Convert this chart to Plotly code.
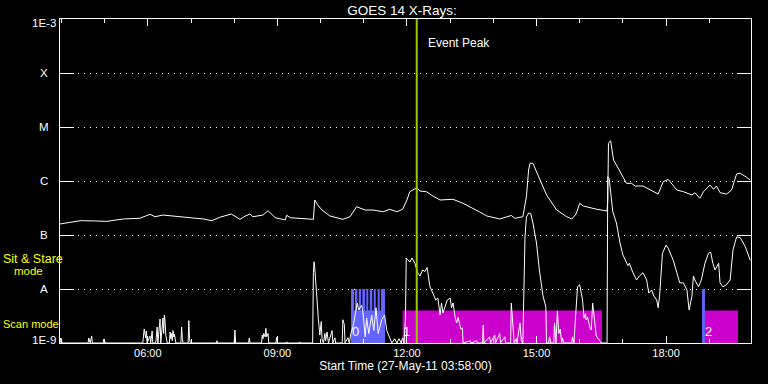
import math
import plotly.graph_objects as go

DAY = "2011-05-27"
X_START = "03:58"
X_END = "19:58"
TITLE = "GOES 14 X-Rays:"
X_TITLE = "Start Time (27-May-11 03:58:00)"

Y_TICK_VALS = [1e-9, 1e-8, 1e-7, 1e-6, 1e-5, 1e-4, 1e-3]
Y_TICK_TEXT = ["1E-9", "A", "B", "C", "M", "X", "1E-3"]

# GOES long channel (1-8 A)
long_time = [
    "03:58", "04:12", "04:26", "04:47", "05:03", "05:26", "05:49", "06:03", "06:10", "06:21",
    "06:49", "07:03", "07:17", "07:29", "07:40", "07:56", "08:08", "08:15", "08:22", "08:26",
    "08:40", "08:47", "08:57", "09:11", "09:13", "09:18", "09:41", "09:50", "09:52", "09:56",
    "10:02", "10:13", "10:31", "10:41", "10:50", "11:02", "11:13", "11:27", "11:36", "11:46",
    "11:54", "12:00", "12:04", "12:14", "12:18", "12:27", "12:36", "12:46", "13:04", "13:18",
    "13:41", "13:51", "14:09", "14:25", "14:30", "14:41", "14:46", "14:49", "14:51", "14:55",
    "15:02", "15:14", "15:28", "15:42", "15:49", "15:55", "16:00", "16:05", "16:24", "16:38",
    "16:39", "16:40", "16:43", "16:47", "16:51", "17:05", "17:12", "17:17", "17:28", "17:38",
    "17:49", "17:56", "18:03", "18:15", "18:24", "18:36", "18:40", "18:47", "18:52", "19:01",
    "19:06", "19:10", "19:15", "19:24", "19:31", "19:38", "19:43", "19:52", "19:57",
]
long_flux = [
    1.60e-7, 1.70e-7, 1.84e-7, 1.82e-7, 1.79e-7, 1.98e-7, 2.04e-7, 2.42e-7, 2.18e-7, 2.34e-7,
    2.18e-7, 2.09e-7, 1.98e-7, 1.84e-7, 2.13e-7, 2.45e-7, 1.95e-7, 2.23e-7, 2.45e-7, 2.18e-7,
    2.34e-7, 2.82e-7, 2.09e-7, 1.90e-7, 2.32e-7, 2.09e-7, 2.00e-7, 1.95e-7, 4.45e-7, 3.60e-7,
    2.90e-7, 2.25e-7, 1.95e-7, 2.18e-7, 3.34e-7, 2.90e-7, 2.90e-7, 2.70e-7, 2.99e-7, 2.70e-7,
    2.99e-7, 4.45e-7, 6.34e-7, 7.52e-7, 6.50e-7, 6.34e-7, 5.27e-7, 4.45e-7, 4.58e-7, 3.86e-7,
    2.67e-7, 2.25e-7, 1.98e-7, 2.30e-7, 2.04e-7, 2.18e-7, 5.12e-7, 1.60e-6, 2.13e-6, 2.13e-6,
    1.29e-6, 5.51e-7, 2.90e-7, 2.18e-7, 1.98e-7, 2.45e-7, 3.86e-7, 3.44e-7, 2.99e-7, 2.78e-7,
    4.45e-7, 4.99e-6, 5.57e-6, 2.45e-6, 1.98e-6, 9.06e-7, 9.06e-7, 8.07e-7, 8.07e-7, 6.81e-7,
    5.74e-7, 9.71e-7, 1.07e-6, 6.81e-7, 6.34e-7, 5.51e-7, 6.07e-7, 4.79e-7, 6.34e-7, 8.43e-7,
    7.02e-7, 8.07e-7, 6.07e-7, 5.74e-7, 6.81e-7, 1.35e-6, 1.39e-6, 1.17e-6, 1.04e-6,
]

# GOES short channel (0.5-4 A)
short_time = [
    "03:58", "03:59", "04:01", "04:37", "04:38", "04:40", "04:42", "04:43", "04:58", "04:59",
    "05:01", "05:53", "05:55", "05:56", "05:57", "05:58", "05:59", "06:03", "06:04", "06:06",
    "06:07", "06:11", "06:13", "06:14", "06:15", "06:17", "06:18", "06:20", "06:21", "06:22",
    "06:23", "06:24", "06:25", "06:27", "06:30", "06:31", "06:32", "06:33", "06:34", "06:35",
    "06:36", "06:37", "06:39", "06:46", "06:47", "06:48", "06:49", "06:56", "06:57", "06:58",
    "06:59", "07:35", "07:36", "07:37", "08:00", "08:01", "08:02", "08:20", "08:21", "08:22",
    "08:38", "08:39", "08:40", "08:41", "08:43", "08:44", "08:45", "08:47", "08:48", "08:58",
    "08:59", "09:00", "09:12", "09:13", "09:14", "09:30", "09:31", "09:32", "09:49", "09:50",
    "09:51", "09:52", "09:53", "09:54", "09:55", "09:56", "09:57", "09:58", "09:59", "10:01",
    "10:02", "10:04", "10:06", "10:07", "10:09", "10:11", "10:16", "10:17", "10:20", "10:21",
    "10:30", "10:31", "10:33", "10:34", "10:38", "10:40", "10:42", "10:45", "10:49", "10:51",
    "10:53", "10:57", "10:59", "11:02", "11:04", "11:07", "11:11", "11:14", "11:17", "11:20",
    "11:25", "11:29", "11:32", "11:36", "11:39", "11:43", "11:46", "11:49", "11:52", "11:54",
    "11:56", "11:58", "11:59", "12:01", "12:04", "12:07", "12:11", "12:15", "12:18", "12:22",
    "12:25", "12:28", "12:32", "12:36", "12:40", "12:43", "12:46", "12:48", "12:50", "12:56",
    "13:00", "13:02", "13:04", "13:07", "13:09", "13:11", "13:15", "13:17", "13:18", "13:28",
    "13:29", "13:37", "13:38", "13:45", "13:46", "13:47", "13:55", "13:56", "14:02", "14:03",
    "14:09", "14:10", "14:16", "14:17", "14:24", "14:25", "14:27", "14:29", "14:32", "14:33",
    "14:37", "14:39", "14:41", "14:42", "14:44", "14:46", "14:49", "14:52", "14:55", "15:00",
    "15:04", "15:09", "15:11", "15:13", "15:14", "15:17", "15:18", "15:20", "15:24", "15:25",
    "15:27", "15:29", "15:31", "15:33", "15:35", "15:36", "15:38", "15:49", "15:50", "15:52",
    "15:54", "15:57", "16:00", "16:02", "16:04", "16:06", "16:08", "16:09", "16:11", "16:14",
    "16:16", "16:18", "16:21", "16:23", "16:28", "16:30", "16:38", "16:39", "16:41", "16:44",
    "16:46", "16:51", "16:56", "17:00", "17:05", "17:07", "17:09", "17:14", "17:19", "17:23",
    "17:28", "17:33", "17:36", "17:40", "17:43", "17:47", "17:49", "17:51", "17:55", "18:00",
    "18:03", "18:10", "18:15", "18:19", "18:24", "18:29", "18:32", "18:36", "18:38", "18:40",
    "18:45", "18:49", "18:54", "18:59", "19:02", "19:05", "19:08", "19:13", "19:15", "19:19",
    "19:24", "19:29", "19:33", "19:38", "19:43", "19:50", "19:57",
]
short_flux = [
    1e-9, 1.24e-9, 1e-9, 1e-9, 1.24e-9, 1e-9, 1.35e-9, 1e-9, 1e-9, 1.19e-9,
    1e-9, 1e-9, 1.82e-9, 1.35e-9, 1.24e-9, 1.67e-9, 1e-9, 1.35e-9, 1e-9, 1.67e-9,
    1e-9, 1e-9, 1.98e-9, 1e-9, 1.3e-9, 2.78e-9, 1e-9, 2.2e-9, 2.9e-9, 1.5e-9,
    3.3e-9, 2.5e-9, 1.4e-9, 1e-9, 1e-9, 1.6e-9, 1.2e-9, 1.5e-9, 1.1e-9, 1.7e-9,
    1.3e-9, 1.45e-9, 1e-9, 1e-9, 1.98e-9, 1.2e-9, 1e-9, 1e-9, 2.6e-9, 1.2e-9,
    1e-9, 1e-9, 1.1e-9, 1e-9, 1e-9, 1.74e-9, 1e-9, 1e-9, 1.24e-9, 1e-9,
    1e-9, 1.4e-9, 1.2e-9, 1.5e-9, 1.3e-9, 1.87e-9, 1.3e-9, 1.5e-9, 1e-9, 1e-9,
    1.27e-9, 1e-9, 1e-9, 1.05e-9, 1e-9, 1e-9, 1.05e-9, 1e-9, 1e-9, 2.0e-8,
    3.2e-8, 2.4e-8, 1.47e-8, 8.4e-9, 5.0e-9, 3.6e-9, 2.7e-9, 2.0e-9, 1.4e-9, 2.5e-9,
    1.2e-9, 1e-9, 1.5e-9, 1.1e-9, 1.6e-9, 1e-9, 1.7e-9, 1e-9, 1.25e-9, 1e-9,
    1e-9, 2.7e-9, 2.2e-9, 1e-9, 1.25e-9, 1e-9, 1.5e-9, 2.0e-9, 4.1e-9, 5.5e-9,
    4.1e-9, 5.0e-9, 3.6e-9, 1.3e-9, 2.9e-9, 1.5e-9, 3.3e-9, 1.7e-9, 4.5e-9, 1.5e-9,
    2.7e-9, 3.3e-9, 1.7e-9, 1.24e-9, 1e-9, 1.2e-9, 1e-9, 1.2e-9, 1e-9, 1.25e-9,
    1e-9, 3.0e-9, 3.75e-8, 3.5e-8, 3.16e-8, 3.75e-8, 3.0e-8, 2.0e-8, 1.74e-8, 2.25e-8,
    2.1e-8, 2.5e-8, 1.1e-8, 8.4e-9, 6.25e-9, 6.8e-9, 3.3e-9, 5.5e-9, 3.6e-9, 6.25e-9,
    6.8e-9, 4.5e-9, 5.5e-9, 3.0e-9, 2.35e-9, 3.0e-9, 1.8e-9, 1.9e-9, 1e-9, 1.1e-9,
    1e-9, 1.1e-9, 1e-9, 1e-9, 2.15e-9, 1e-9, 1.3e-9, 1e-9, 1.4e-9, 1e-9,
    1.5e-9, 1e-9, 1.3e-9, 1e-9, 1e-9, 5.5e-9, 2.0e-9, 1e-9, 1.2e-9, 1e-9,
    2.35e-9, 1.1e-9, 1e-9, 6e-9, 9.2e-8, 2.15e-7, 2.55e-7, 2.5e-7, 1.67e-7, 7.1e-8,
    2.25e-8, 7.5e-9, 5.5e-9, 4.6e-9, 1e-9, 1e-9, 1.3e-9, 1e-9, 1e-9, 2.35e-9,
    1e-9, 3.9e-9, 1.5e-9, 1.8e-9, 1e-9, 1.24e-9, 1e-9, 1e-9, 1.3e-9, 1e-9,
    2.67e-9, 1.1e-8, 1.2e-8, 8e-9, 6.25e-9, 2.9e-9, 3.5e-9, 2.67e-9, 3.0e-9, 2.0e-9,
    1.74e-9, 5.5e-9, 2.0e-9, 1.35e-9, 1.1e-9, 1e-9, 1e-9, 1.2e-6, 1.1e-6, 5.1e-7,
    2.7e-7, 1.67e-7, 7.1e-8, 4.3e-8, 3.0e-8, 2.7e-8, 3.0e-8, 2.0e-8, 1.47e-8, 1.74e-8,
    2.0e-8, 1.47e-8, 8.4e-9, 9.6e-9, 7.4e-9, 6.25e-9, 4.5e-9, 7.4e-9, 4.6e-8, 6.5e-8,
    5.7e-8, 3.4e-8, 2.0e-8, 1.3e-8, 1.3e-8, 9.6e-9, 4.1e-9, 7.4e-9, 1.74e-8, 1.47e-8,
    1.1e-8, 1.47e-8, 3.0e-8, 4.6e-8, 4.8e-8, 3.0e-8, 2.25e-8, 3.0e-8, 1.3e-8, 1.1e-8,
    1.2e-8, 1.47e-8, 5.3e-8, 9.2e-8, 9.0e-8, 6.1e-8, 3.4e-8,
]

EVENT_PEAK_TIME = "12:13:36"

# Observing modes
sit_stare_start = ["10:42:20", "10:47:50", "10:53:00", "10:58:00", "11:03:30", "11:08:20",
                   "11:13:50", "11:19:20", "11:24:00", "18:50:00"]
sit_stare_end = ["10:46:30", "10:51:10", "10:56:10", "11:01:50", "11:06:20", "11:11:50",
                 "11:16:40", "11:22:10", "11:29:30", "18:54:00"]
sit_stare_level = 1e-8
sit_stare_block_start = ["10:42:20"]
sit_stare_block_end = ["11:29:30"]
scan_start = ["11:54:00", "18:54:00"]
scan_end = ["16:31:00", "19:40:00"]
mode_level = 4.0e-9
mode_numbers = ["0", "1", "2"]
mode_number_time = ["10:49:00", "11:59:30", "18:59:00"]
mode_number_level = 1.6e-9

BLUE = "#6464ff"
MAGENTA = "#cc00cc"
EVENT_COLOR = "#9acd00"
YELLOW = "#ffff00"
FONT = "Liberation Sans"


def ts(hm):
    return f"{DAY} {hm}"


FLOOR = Y_TICK_VALS[0]
CEIL = Y_TICK_VALS[-1]


def rects(starts, ends, top):
    xs, ys = [], []
    for s, e in zip(starts, ends):
        xs += [ts(s), ts(s), ts(e), ts(e), ts(s), None]
        ys += [FLOOR, top, top, FLOOR, FLOOR, None]
    return xs, ys


fig = go.Figure()

sx, sy = rects(scan_start, scan_end, mode_level)
fig.add_trace(go.Scatter(x=sx, y=sy, mode="lines", fill="toself", fillcolor=MAGENTA,
                         line=dict(width=0, color=MAGENTA), hoverinfo="skip"))
bx, by = rects(sit_stare_block_start, sit_stare_block_end, mode_level)
fig.add_trace(go.Scatter(x=bx, y=by, mode="lines", fill="toself", fillcolor=BLUE,
                         line=dict(width=0, color=BLUE), hoverinfo="skip"))
bx, by = rects(sit_stare_start, sit_stare_end, sit_stare_level)
fig.add_trace(go.Scatter(x=bx, y=by, mode="lines", fill="toself", fillcolor=BLUE,
                         line=dict(width=0, color=BLUE), hoverinfo="skip"))

fig.add_trace(go.Scatter(x=[ts(t) for t in short_time], y=short_flux, mode="lines",
                         line=dict(color="white", width=1), name="0.5-4 A"))
fig.add_trace(go.Scatter(x=[ts(t) for t in long_time], y=long_flux, mode="lines",
                         line=dict(color="white", width=1), name="1-8 A"))
fig.add_trace(go.Scatter(x=[ts(EVENT_PEAK_TIME)] * 2, y=[FLOOR, CEIL], mode="lines",
                         line=dict(color=EVENT_COLOR, width=2), name="Event Peak"))

annotations = []
label_font = dict(family=FONT, size=11.5, color="white")
for v, txt in zip(Y_TICK_VALS, Y_TICK_TEXT):
    yp = (math.log10(v) - math.log10(FLOOR)) / (math.log10(CEIL) - math.log10(FLOOR))
    if txt.startswith("1E"):
        annotations.append(dict(x=0, y=yp, xref="paper", yref="paper", text=txt,
                                showarrow=False, xanchor="right", yanchor="middle",
                                xshift=-2, yshift=(-4 if yp > 0.5 else 3), font=label_font))
    else:
        annotations.append(dict(x=0, y=yp, xref="paper", yref="paper", text=txt,
                                showarrow=False, xanchor="center", yanchor="middle",
                                xshift=-16, font=label_font))

for txt, px, py, fs in [("Sit & Stare", 1, 259, 12.5), ("mode", 12, 271, 11.5),
                        ("Scan mode", 1, 324, 11)]:
    annotations.append(dict(x=0, y=(343 - py) / 324, xref="paper", yref="paper", text=txt,
                            showarrow=False, xanchor="left", yanchor="middle",
                            xshift=px - 60, font=dict(family=FONT, size=fs, color=YELLOW)))

annotations.append(dict(x=ts(EVENT_PEAK_TIME), y=(343 - 43) / 324, xref="x", yref="paper",
                        text="Event Peak", showarrow=False, xanchor="left", yanchor="middle",
                        xshift=9, font=dict(family=FONT, size=12, color="white")))

for txt, t in zip(mode_numbers, mode_number_time):
    annotations.append(dict(x=ts(t), y=math.log10(mode_number_level), xref="x", yref="y",
                            text=txt, showarrow=False, xanchor="center", yanchor="middle",
                            font=dict(family=FONT, size=13, color="white")))

fig.update_layout(
    width=768, height=384,
    paper_bgcolor="black", plot_bgcolor="black",
    margin=dict(l=60, r=17, t=19, b=41, pad=0),
    showlegend=False,
    font=dict(family=FONT, size=11, color="white"),
    title=dict(text=TITLE, x=402 / 768, xref="container", xanchor="center",
               y=1 - 10 / 384, yref="container", yanchor="middle",
               font=dict(family=FONT, size=13.5, color="white")),
    xaxis=dict(
        type="date", range=[ts(X_START), ts(X_END)],
        tickformat="%H:%M", tick0=ts("00:00"), dtick=3 * 3600 * 1000,
        ticks="inside", ticklen=7, tickwidth=1, tickcolor="white",
        mirror="allticks", showline=True, linecolor="white", linewidth=1,
        showgrid=False, zeroline=False,
        minor=dict(tick0=ts("00:00"), dtick=3600 * 1000, ticks="inside", ticklen=4,
                   tickwidth=1, tickcolor="white", showgrid=False),
        tickfont=dict(family=FONT, size=11, color="white"),
        title=dict(text=X_TITLE, font=dict(family=FONT, size=12, color="white"), standoff=2),
    ),
    yaxis=dict(
        type="log", range=[math.log10(FLOOR), math.log10(CEIL)],
        tickvals=Y_TICK_VALS, showticklabels=False,
        ticks="inside", ticklen=14, tickwidth=1, tickcolor="white",
        mirror="allticks", showline=True, linecolor="white", linewidth=1,
        showgrid=True, gridcolor="white", gridwidth=1, griddash="1px,5px",
        zeroline=False,
    ),
    annotations=annotations,
)

fig.write_html(
    "out.html",
    config={"displayModeBar": False},
    post_script="document.body.style.margin='0';document.body.style.overflow='hidden';"
                "document.body.style.background='black';",
)
